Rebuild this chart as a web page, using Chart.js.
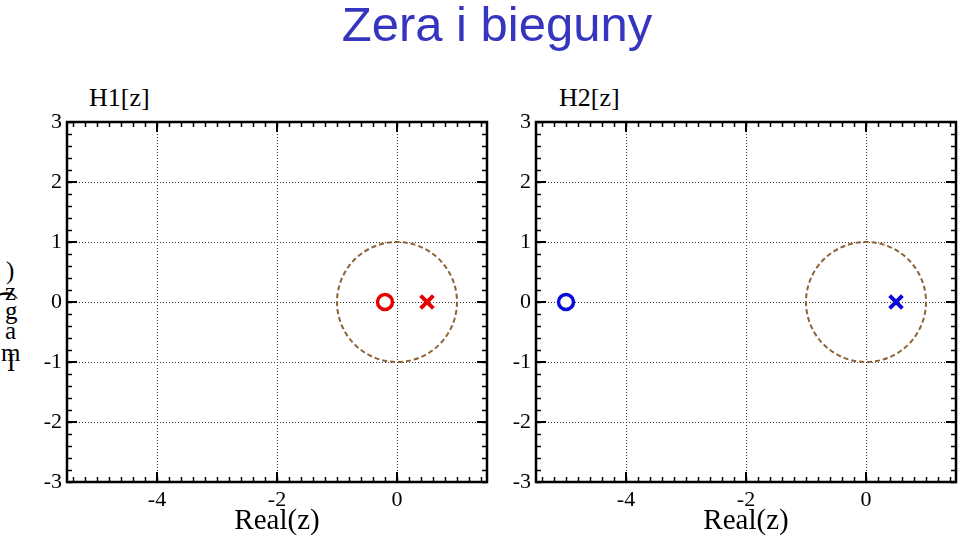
<!DOCTYPE html>
<html>
<head>
    <title>Zera i bieguny</title>
    <script src="https://cdn.jsdelivr.net/npm/chart.js"></script>
    <style>
        body { margin: 0; background: #fff; width: 960px; height: 539px; position: relative; overflow: hidden; }
        canvas { position: absolute; top: 0; }
        .txt { position: absolute; white-space: nowrap; line-height: 1; }
        #title { left: 0; width: 994px; top: 0; text-align: center; font-family: "Liberation Sans", Arial, sans-serif; font-size: 49px; color: #3535c0; }
        .sub { font-family: "Liberation Serif", "Times New Roman", serif; font-size: 26px; color: #000; }
        .ylab { font-family: "Liberation Serif", "Times New Roman", serif; font-size: 25px; color: #000; }
    </style>
</head>
<body>
    <div id="title" class="txt">Zera i bieguny</div>
    <div class="txt sub" style="left:89px; top:85px;">H1[z]</div>
    <div class="txt sub" style="left:559px; top:85px;">H2[z]</div>
    <!-- broken vertical axis label, glyphs stacked as in the original -->
    <div class="txt ylab" style="left:6px; top:258px;">)</div>
    <div class="txt ylab" style="left:5px; top:279px;">z</div>
    <div class="txt ylab" style="left:4px; top:283px; transform: rotate(90deg);">(</div>
    <div class="txt ylab" style="left:5px; top:298px;">g</div>
    <div class="txt ylab" style="left:5px; top:318px;">a</div>
    <div class="txt ylab" style="left:1px; top:340px;">m</div>
    <div class="txt ylab" style="left:7px; top:350px;">I</div>

    <canvas id="chartH1" width="500" height="539" style="left:0px;"></canvas>
    <canvas id="chartH2" width="460" height="539" style="left:500px;"></canvas>

<script>
// data
const xMin = -5.5, xMax = 1.5;
const yMin = -3, yMax = 3;
const xTickValues = [-4, -2, 0];
const yTickValues = [-3, -2, -1, 0, 1, 2, 3];
const minorStep = 0.2;
const unitRadius = 1;

const h1Zeros = [{ x: -0.2, y: 0 }];
const h1Poles = [{ x: 0.5, y: 0 }];
const h2Zeros = [{ x: -5, y: 0 }];
const h2Poles = [{ x: 0.5, y: 0 }];

const serif = '"Liberation Serif", "Times New Roman", serif';

// frame, inward ticks and the dashed unit circle
const framePlugin = {
    id: 'frame',
    beforeDatasetsDraw(chart) {
        const ctx = chart.ctx;
        const xs = chart.scales.x, ys = chart.scales.y;
        const cx = xs.getPixelForValue(0), cy = ys.getPixelForValue(0);
        const r = xs.getPixelForValue(unitRadius) - cx;
        ctx.save();
        ctx.strokeStyle = '#8c6434';
        ctx.lineWidth = 2;
        ctx.setLineDash([5, 3]);
        ctx.beginPath();
        ctx.arc(cx, cy, r, 0, Math.PI * 2);
        ctx.stroke();
        ctx.restore();
    },
    afterDraw(chart) {
        const ctx = chart.ctx;
        const a = chart.chartArea;
        const xs = chart.scales.x, ys = chart.scales.y;
        ctx.save();
        ctx.strokeStyle = '#000';
        ctx.lineWidth = 1.5;
        ctx.beginPath();
        // minor ticks
        for (let i = Math.ceil(xMin / minorStep); i * minorStep <= xMax + 1e-9; i++) {
            const px = Math.round(xs.getPixelForValue(i * minorStep)) + 0.5;
            ctx.moveTo(px, a.bottom); ctx.lineTo(px, a.bottom - 5);
            ctx.moveTo(px, a.top); ctx.lineTo(px, a.top + 5);
        }
        for (let i = Math.ceil(yMin / minorStep); i * minorStep <= yMax + 1e-9; i++) {
            const py = Math.round(ys.getPixelForValue(i * minorStep)) + 0.5;
            ctx.moveTo(a.left, py); ctx.lineTo(a.left + 5, py);
            ctx.moveTo(a.right, py); ctx.lineTo(a.right - 5, py);
        }
        ctx.stroke();
        // major ticks
        ctx.lineWidth = 2;
        ctx.beginPath();
        xTickValues.forEach(v => {
            const px = Math.round(xs.getPixelForValue(v));
            ctx.moveTo(px, a.bottom); ctx.lineTo(px, a.bottom - 10);
            ctx.moveTo(px, a.top); ctx.lineTo(px, a.top + 10);
        });
        yTickValues.forEach(v => {
            const py = Math.round(ys.getPixelForValue(v));
            ctx.moveTo(a.left, py); ctx.lineTo(a.left + 10, py);
            ctx.moveTo(a.right, py); ctx.lineTo(a.right - 10, py);
        });
        ctx.stroke();
        // frame
        ctx.lineWidth = 2.5;
        ctx.strokeRect(a.left, a.top, a.right - a.left, a.bottom - a.top);
        ctx.restore();
    }
};

function makeChart(id, zeros, poles, color, leftWidth, rightPad) {
    return new Chart(document.getElementById(id).getContext('2d'), {
        type: 'scatter',
        data: {
            datasets: [
                {
                    label: 'zera',
                    data: zeros,
                    pointStyle: 'circle',
                    radius: 7.5,
                    borderWidth: 3.5,
                    borderColor: color,
                    backgroundColor: '#fff'
                },
                {
                    label: 'bieguny',
                    data: poles,
                    pointStyle: 'crossRot',
                    radius: 9,
                    borderWidth: 4,
                    borderColor: color,
                    backgroundColor: color
                }
            ]
        },
        options: {
            responsive: false,
            animation: false,
            layout: { autoPadding: false, padding: { top: 122, right: rightPad, left: 0, bottom: 0 } },
            plugins: { legend: { display: false }, tooltip: { enabled: false } },
            scales: {
                x: {
                    type: 'linear',
                    min: xMin,
                    max: xMax,
                    afterBuildTicks: s => { s.ticks = xTickValues.map(v => ({ value: v })); },
                    afterFit: s => { s.height = 57; s.paddingLeft = 0; s.paddingRight = 0; },
                    border: { display: false, dash: [1, 2] },
                    grid: { color: '#333', lineWidth: 1, drawTicks: false },
                    ticks: { color: '#000', padding: 5, font: { family: serif, size: 22 }, maxRotation: 0 },
                    title: { display: true, text: 'Real(z)', color: '#000', padding: { top: 0, bottom: 0 }, font: { family: serif, size: 29 } }
                },
                y: {
                    type: 'linear',
                    min: yMin,
                    max: yMax,
                    afterBuildTicks: s => { s.ticks = yTickValues.map(v => ({ value: v })); },
                    afterFit: s => { s.width = leftWidth; s.paddingTop = 0; s.paddingBottom = 0; },
                    border: { display: false, dash: [1, 2] },
                    grid: { color: '#333', lineWidth: 1, drawTicks: false },
                    ticks: { color: '#000', padding: 5, font: { family: serif, size: 22 } }
                }
            }
        },
        plugins: [framePlugin]
    });
}

makeChart('chartH1', h1Zeros, h1Poles, '#e80000', 67, 13);
makeChart('chartH2', h2Zeros, h2Poles, '#0a0ad8', 36, 4);
</script>
</body>
</html>
